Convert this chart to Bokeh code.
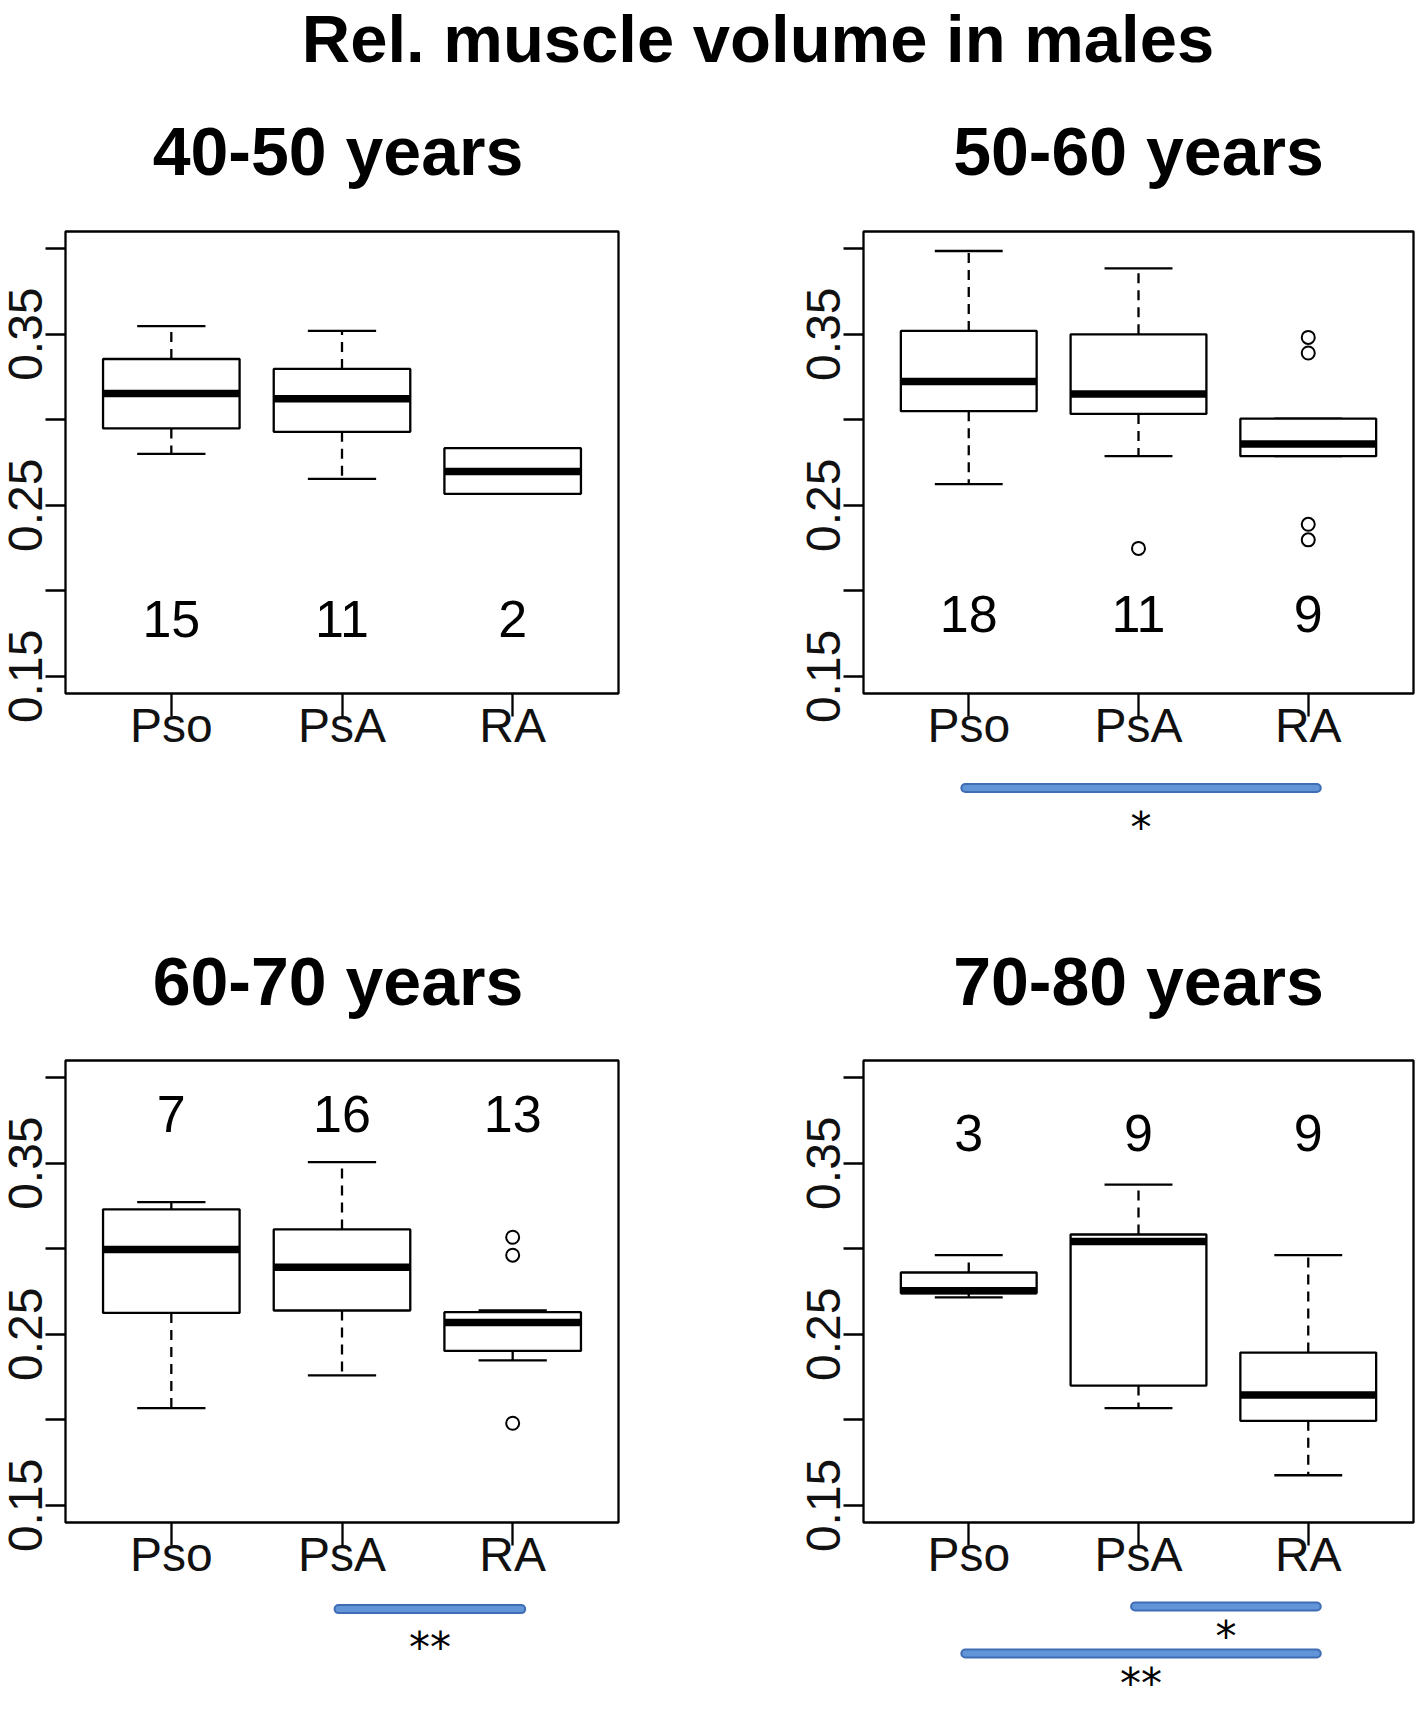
from bokeh.plotting import figure
from bokeh.layouts import column, row
from bokeh.models import Range1d, FixedTicker, Spacer, ColumnDataSource
from bokeh.core.properties import value
from bokeh.embed import file_html
from bokeh.resources import INLINE

# ---------------- data ----------------
main_title = "Rel. muscle volume in males"
panel_titles = ["40-50 years", "50-60 years", "60-70 years", "70-80 years"]
groups = ["Pso", "PsA", "RA"]

lower_whisker = [[0.2800, 0.2654, 0.2567], [0.2624, 0.2787, 0.2787],
                 [0.2069, 0.2260, 0.2347], [0.2716, 0.2069, 0.1676]]
q1 = [[0.2949, 0.2929, 0.2567], [0.3050, 0.3034, 0.2787],
      [0.2625, 0.2639, 0.2403], [0.2740, 0.2200, 0.1994]]
median = [[0.3153, 0.3123, 0.2698], [0.3224, 0.3151, 0.2858],
          [0.2996, 0.2891, 0.2569], [0.2754, 0.3042, 0.2145]]
q3 = [[0.3355, 0.3297, 0.2834], [0.3519, 0.3499, 0.3006],
      [0.3230, 0.3113, 0.2629], [0.2861, 0.3083, 0.2393]]
upper_whisker = [[0.3547, 0.3519, 0.2834], [0.3986, 0.3885, 0.3006],
                 [0.3272, 0.3506, 0.2639], [0.2962, 0.3375, 0.2962]]
outliers = [
    [[], [], []],
    [[], [0.2248], [0.3481, 0.3390, 0.2389, 0.2298]],
    [[], [], [0.3067, 0.2962, 0.1980]],
    [[], [], []],
]
counts = [[15, 11, 2], [18, 11, 9], [7, 16, 13], [3, 9, 9]]
comparisons = [
    [],
    [("Pso", "RA", "*")],
    [("PsA", "RA", "**")],
    [("PsA", "RA", "*"), ("Pso", "RA", "**")],
]
y_ticks_major = [0.15, 0.25, 0.35]
y_ticks_minor = [0.20, 0.30, 0.40]

# ---------------- style / layout ----------------
FONT = "Liberation Sans"
LW = 2.3
count_label_y = [0.1833, 0.1864, 0.3788, 0.3677]
FRAME_H = 462
TOP = 16
BOT = 70
W_ALL = 1416
W1, W2 = 760, 656
BL1, BR1 = 65, 142
BL2, BR2 = 103, 3
FC1 = BL1 + (W1 - BL1 - BR1) / 2 - 4          # title centre, left column
FC2 = W1 + BL2 + (W2 - BL2 - BR2) / 2          # title centre, right column


def make_panel(i, width, bl, br):
    p = figure(width=width, height=TOP + FRAME_H + BOT, title=None,
               x_range=Range1d(0.38, 3.62), y_range=Range1d(0.14, 0.41),
               min_border_left=bl, min_border_right=br,
               min_border_top=TOP, min_border_bottom=BOT,
               output_backend="svg", toolbar_location=None)
    p.grid.visible = False
    p.outline_line_color = "black"
    p.outline_line_width = LW
    p.background_fill_color = "white"
    p.border_fill_color = "white"

    xa = p.xaxis[0]
    xa.ticker = FixedTicker(ticks=[1, 2, 3])
    xa.major_label_overrides = {1: groups[0], 2: groups[1], 3: groups[2]}
    xa.axis_line_color = None
    xa.major_tick_in = 0
    xa.major_tick_out = 23
    xa.minor_tick_line_color = None
    xa.major_tick_line_width = LW
    xa.major_tick_line_color = "black"
    xa.major_label_text_font = FONT
    xa.major_label_text_font_size = "48px"
    xa.major_label_text_color = "#111111"
    xa.major_label_standoff = -18

    ya = p.yaxis[0]
    ya.ticker = FixedTicker(ticks=y_ticks_major, minor_ticks=y_ticks_minor)
    ya.axis_line_color = None
    ya.major_tick_in = 0
    ya.major_tick_out = 20
    ya.minor_tick_in = 0
    ya.minor_tick_out = 20
    ya.major_tick_line_width = LW
    ya.minor_tick_line_width = LW
    ya.major_tick_line_color = "black"
    ya.minor_tick_line_color = "black"
    ya.major_label_orientation = "vertical"
    ya.major_label_text_font = FONT
    ya.major_label_text_font_size = "48px"
    ya.major_label_text_color = "#111111"
    ya.major_label_standoff = 3

    xs = [1, 2, 3]
    src = ColumnDataSource(dict(
        x=xs, left=[x - 0.4 for x in xs], right=[x + 0.4 for x in xs],
        cl=[x - 0.2 for x in xs], cr=[x + 0.2 for x in xs],
        lo=lower_whisker[i], q1=q1[i], med=median[i], q3=q3[i], hi=upper_whisker[i],
        n=[str(c) for c in counts[i]], ny=[count_label_y[i]] * 3,
    ))
    p.segment(x0="x", y0="q3", x1="x", y1="hi", source=src, line_color="black",
              line_width=LW, line_dash="10 7")
    p.segment(x0="x", y0="q1", x1="x", y1="lo", source=src, line_color="black",
              line_width=LW, line_dash="10 7")
    p.segment(x0="cl", y0="hi", x1="cr", y1="hi", source=src, line_color="black", line_width=LW)
    p.segment(x0="cl", y0="lo", x1="cr", y1="lo", source=src, line_color="black", line_width=LW)
    p.quad(left="left", right="right", bottom="q1", top="q3", source=src,
           fill_color="white", line_color="black", line_width=LW)
    p.segment(x0="left", y0="med", x1="right", y1="med", source=src,
              line_color="black", line_width=7.5)

    ox, oy = [], []
    for g, vals in enumerate(outliers[i]):
        for v in vals:
            ox.append(g + 1)
            oy.append(v)
    if ox:
        p.scatter(x=ox, y=oy, marker="circle", size=13, fill_color=None,
                  line_color="black", line_width=2)

    p.text(x="x", y="ny", text="n", source=src, text_align="center",
           text_baseline="middle", text_font=value(FONT), text_font_size="52px",
           text_color="black")
    return p


def make_sig(i, width, bl, br, height, first_y, gap, star_dy, x_range):
    s = figure(width=width, height=height, x_range=x_range, y_range=Range1d(height, 0),
               min_border_left=bl, min_border_right=br, min_border_top=0, min_border_bottom=0,
               x_axis_location=None, y_axis_location=None, title=None,
               output_backend="svg", toolbar_location=None)
    s.grid.visible = False
    s.outline_line_color = None
    x0s, x1s, ys, tx, ty, tt = [], [], [], [], [], []
    for k, (g1, g2, lab) in enumerate(comparisons[i]):
        a = groups.index(g1) + 1 - 0.02
        b = groups.index(g2) + 1 + 0.05
        y = first_y + k * gap
        x0s.append(a); x1s.append(b); ys.append(y)
        tx.append((a + b) / 2); ty.append(y + star_dy + 10); tt.append(lab)
    s.segment(x0=x0s, y0=ys, x1=x1s, y1=ys, line_color="#3f6db3", line_width=10, line_cap="round")
    s.segment(x0=x0s, y0=ys, x1=x1s, y1=ys, line_color="#6294d8", line_width=6, line_cap="round")
    s.text(x=tx, y=ty, text=tt, text_align="center", text_baseline="middle",
           text_font=value("DejaVu Sans"), text_font_size="42px", text_color="black")
    return s


def make_strip(height):
    f = figure(width=W_ALL, height=height, x_range=Range1d(0, W_ALL), y_range=Range1d(height, 0),
               min_border=0, x_axis_location=None, y_axis_location=None, title=None,
               output_backend="svg", toolbar_location=None)
    f.grid.visible = False
    f.outline_line_color = None
    return f


# strip with the main title and the titles of the upper panels
HA = 215
stripA = make_strip(HA)
stripA.text(x=[757.5], y=[38], text=[main_title], text_align="center", text_baseline="middle",
            text_font=value(FONT), text_font_style="bold", text_font_size="67px",
            text_color="black")
stripA.text(x=[FC1, FC2], y=[150.5, 150.5], text=panel_titles[0:2], text_align="center",
            text_baseline="middle", text_font=value(FONT), text_font_style="bold",
            text_font_size="68px", text_color="black")

# strip with the titles of the lower panels
HB = 156
stripB = make_strip(HB)
stripB.text(x=[FC1, FC2], y=[92.5, 92.5], text=panel_titles[2:4], text_align="center",
            text_baseline="middle", text_font=value(FONT), text_font_style="bold",
            text_font_size="68px", text_color="black")

p1 = make_panel(0, W1, BL1, BR1)
p2 = make_panel(1, W2, BL2, BR2)
p3 = make_panel(2, W1, BL1, BR1)
p4 = make_panel(3, W2, BL2, BR2)

s1 = Spacer(width=W1, height=125)
s2 = make_sig(1, W2, BL2, BR2, 125, 24.5, 0, 29, p2.x_range)
s3 = make_sig(2, W1, BL1, BR1, 116, 16.6, 0, 28.5, p3.x_range)
s4 = make_sig(3, W2, BL2, BR2, 116, 14, 47, 20, p4.x_range)

layout = column(stripA, row(p1, p2), row(s1, s2), stripB, row(p3, p4), row(s3, s4))

open("out.html", "w").write(file_html(layout, INLINE))
